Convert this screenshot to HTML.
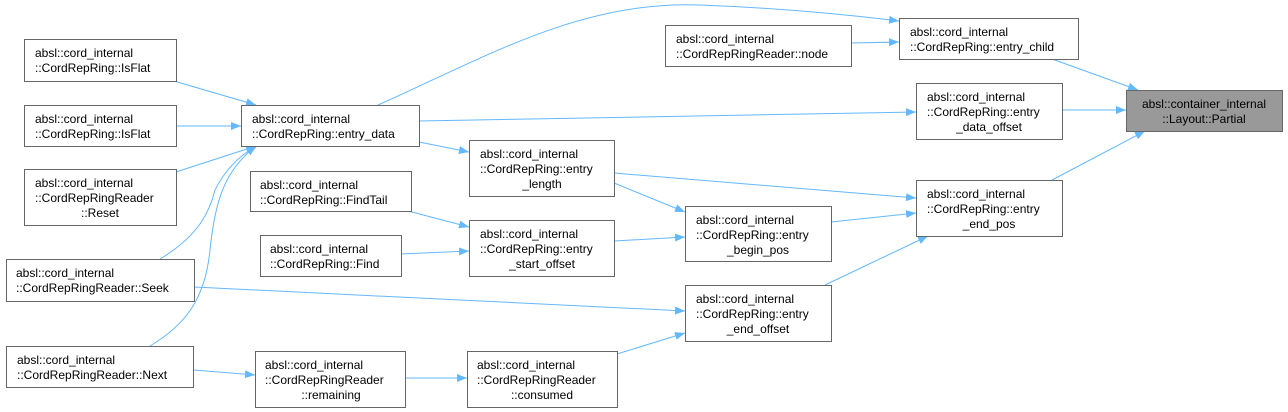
<!DOCTYPE html>
<html><head><meta charset="utf-8"><style>
html,body{margin:0;padding:0;background:#fff;}
svg{display:block;}
text{font-family:"Liberation Sans",Arial,sans-serif;font-size:12px;fill:#000;}
.n{fill:#fff;stroke:#666;stroke-width:1;}
.e{fill:none;stroke:#63b8ff;stroke-width:1;}
</style></head><body>
<svg width="1288" height="412" viewBox="0 0 1288 412" xmlns="http://www.w3.org/2000/svg">
<defs><marker id="a" markerWidth="10" markerHeight="8" refX="10" refY="4" orient="auto" markerUnits="userSpaceOnUse"><path d="M0,0 L10,4 L0,8 Z" fill="#63b8ff"/></marker></defs>
<g class="e" marker-end="url(#a)">
<path d="M174,81 L256,105"/>
<path d="M176,126 L241,126"/>
<path d="M176,172 L256,146"/>
<path d="M160,259 C200,235 210,210 215,190 C225,170 240,155 258,145"/>
<path d="M150,346 C185,325 205,300 210,250 C215,200 225,170 256,146"/>
<path d="M378,105 C480,60 580,0 700,5 C780,8 850,15 899,21"/>
<path d="M419,121 L916,112"/>
<path d="M419,142 L469,152"/>
<path d="M851,43 L899,42"/>
<path d="M1052,59 L1138,90"/>
<path d="M1062,110 L1126,110"/>
<path d="M1052,180 L1145,131"/>
<path d="M614,173 L916,198"/>
<path d="M614,183 L685,212"/>
<path d="M408,211 L469,227"/>
<path d="M401,254 L469,251"/>
<path d="M614,241 L685,237"/>
<path d="M831,222 L916,213"/>
<path d="M194,287 L685,311"/>
<path d="M825,285 L928,236"/>
<path d="M194,370 L255,375"/>
<path d="M406,378 L467,378"/>
<path d="M617,354 L685,333"/>
</g>
<rect class="n" x="24.5" y="39.5" width="152" height="42"/>
<text x="35" y="57">absl::cord_internal</text><text x="35" y="72">::CordRepRing::IsFlat</text>
<rect class="n" x="24.5" y="105.5" width="152" height="41"/>
<text x="35" y="123">absl::cord_internal</text><text x="35" y="138">::CordRepRing::IsFlat</text>
<rect class="n" x="24.5" y="169.5" width="152" height="56"/>
<text x="35" y="187">absl::cord_internal</text><text x="35" y="202">::CordRepRingReader</text><text x="100" y="217" text-anchor="middle">::Reset</text>
<rect class="n" x="6.5" y="259.5" width="188" height="42"/>
<text x="16" y="277">absl::cord_internal</text><text x="16" y="292">::CordRepRingReader::Seek</text>
<rect class="n" x="6.5" y="346.5" width="187" height="41"/>
<text x="17" y="364">absl::cord_internal</text><text x="17" y="379">::CordRepRingReader::Next</text>
<rect class="n" x="241.5" y="105.5" width="178" height="41"/>
<text x="252" y="123">absl::cord_internal</text><text x="252" y="138">::CordRepRing::entry_data</text>
<rect class="n" x="250.5" y="171.5" width="161" height="40"/>
<text x="260" y="189">absl::cord_internal</text><text x="260" y="204">::CordRepRing::FindTail</text>
<rect class="n" x="260.5" y="235.5" width="141" height="41"/>
<text x="270" y="253">absl::cord_internal</text><text x="270" y="268">::CordRepRing::Find</text>
<rect class="n" x="469.5" y="140.5" width="145" height="56"/>
<text x="480" y="158">absl::cord_internal</text><text x="480" y="173">::CordRepRing::entry</text><text x="542" y="188" text-anchor="middle">_length</text>
<rect class="n" x="469.5" y="220.5" width="145" height="56"/>
<text x="480" y="238">absl::cord_internal</text><text x="480" y="253">::CordRepRing::entry</text><text x="542" y="268" text-anchor="middle">_start_offset</text>
<rect class="n" x="255.5" y="351.5" width="150" height="56"/>
<text x="265" y="369">absl::cord_internal</text><text x="265" y="384">::CordRepRingReader</text><text x="331" y="399" text-anchor="middle">::remaining</text>
<rect class="n" x="467.5" y="351.5" width="150" height="56"/>
<text x="477" y="369">absl::cord_internal</text><text x="477" y="384">::CordRepRingReader</text><text x="542" y="399" text-anchor="middle">::consumed</text>
<rect class="n" x="665.5" y="25.5" width="186" height="41"/>
<text x="676" y="43">absl::cord_internal</text><text x="676" y="58">::CordRepRingReader::node</text>
<rect class="n" x="899.5" y="18.5" width="179" height="41"/>
<text x="910" y="36">absl::cord_internal</text><text x="910" y="51">::CordRepRing::entry_child</text>
<rect class="n" x="916.5" y="83.5" width="146" height="56"/>
<text x="927" y="101">absl::cord_internal</text><text x="927" y="116">::CordRepRing::entry</text><text x="989" y="131" text-anchor="middle">_data_offset</text>
<rect class="n" x="685.5" y="206.5" width="146" height="55"/>
<text x="696" y="224">absl::cord_internal</text><text x="696" y="239">::CordRepRing::entry</text><text x="758" y="254" text-anchor="middle">_begin_pos</text>
<rect class="n" x="916.5" y="180.5" width="146" height="56"/>
<text x="927" y="198">absl::cord_internal</text><text x="927" y="213">::CordRepRing::entry</text><text x="989" y="228" text-anchor="middle">_end_pos</text>
<rect class="n" x="685.5" y="285.5" width="146" height="56"/>
<text x="696" y="303">absl::cord_internal</text><text x="696" y="318">::CordRepRing::entry</text><text x="758" y="333" text-anchor="middle">_end_offset</text>
<rect x="1126.5" y="90.5" width="156" height="41" fill="#999" stroke="#666"/>
<text x="1204" y="108" text-anchor="middle">absl::container_internal</text><text x="1204" y="123" text-anchor="middle">::Layout::Partial</text>
</svg>
</body></html>
